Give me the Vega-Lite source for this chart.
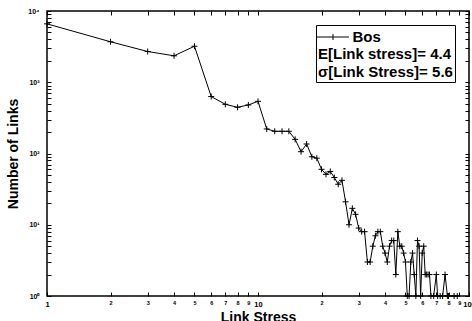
{
  "$schema": "https://vega.github.io/schema/vega-lite/v6.json",
  "width": 422,
  "height": 285,
  "autosize": "none",
  "padding": {"left": 47, "top": 11, "right": 3, "bottom": 25},
  "background": "white",
  "config": {
    "font": "Liberation Sans",
    "view": {"stroke": "black", "strokeWidth": 1.5}
  },
  "data": {
    "values": [
      {"stress": 1, "links": 6600, "series": "Bos"},
      {"stress": 2, "links": 3700, "series": "Bos"},
      {"stress": 3, "links": 2700, "series": "Bos"},
      {"stress": 4, "links": 2350, "series": "Bos"},
      {"stress": 5, "links": 3200, "series": "Bos"},
      {"stress": 6, "links": 630, "series": "Bos"},
      {"stress": 7, "links": 490, "series": "Bos"},
      {"stress": 8, "links": 445, "series": "Bos"},
      {"stress": 9, "links": 480, "series": "Bos"},
      {"stress": 10, "links": 540, "series": "Bos"},
      {"stress": 11, "links": 221, "series": "Bos"},
      {"stress": 12, "links": 205, "series": "Bos"},
      {"stress": 13, "links": 205, "series": "Bos"},
      {"stress": 14, "links": 205, "series": "Bos"},
      {"stress": 15, "links": 158, "series": "Bos"},
      {"stress": 16, "links": 106, "series": "Bos"},
      {"stress": 17, "links": 136, "series": "Bos"},
      {"stress": 18, "links": 90, "series": "Bos"},
      {"stress": 19, "links": 86, "series": "Bos"},
      {"stress": 20, "links": 60, "series": "Bos"},
      {"stress": 21, "links": 51, "series": "Bos"},
      {"stress": 22, "links": 56, "series": "Bos"},
      {"stress": 23, "links": 46, "series": "Bos"},
      {"stress": 24, "links": 37, "series": "Bos"},
      {"stress": 25, "links": 42, "series": "Bos"},
      {"stress": 26, "links": 21, "series": "Bos"},
      {"stress": 27, "links": 10, "series": "Bos"},
      {"stress": 28, "links": 17, "series": "Bos"},
      {"stress": 29, "links": 14, "series": "Bos"},
      {"stress": 30, "links": 9, "series": "Bos"},
      {"stress": 31, "links": 8, "series": "Bos"},
      {"stress": 32, "links": 8, "series": "Bos"},
      {"stress": 33, "links": 3, "series": "Bos"},
      {"stress": 34, "links": 3, "series": "Bos"},
      {"stress": 35, "links": 5, "series": "Bos"},
      {"stress": 36, "links": 7, "series": "Bos"},
      {"stress": 37, "links": 8, "series": "Bos"},
      {"stress": 38, "links": 8, "series": "Bos"},
      {"stress": 39, "links": 5, "series": "Bos"},
      {"stress": 40, "links": 4, "series": "Bos"},
      {"stress": 41, "links": 3, "series": "Bos"},
      {"stress": 42, "links": 5, "series": "Bos"},
      {"stress": 43, "links": 6, "series": "Bos"},
      {"stress": 44, "links": 6, "series": "Bos"},
      {"stress": 45, "links": 2, "series": "Bos"},
      {"stress": 46, "links": 8, "series": "Bos"},
      {"stress": 47, "links": 5, "series": "Bos"},
      {"stress": 48, "links": 5, "series": "Bos"},
      {"stress": 49, "links": 4, "series": "Bos"},
      {"stress": 50, "links": 3, "series": "Bos"},
      {"stress": 51, "links": 1, "series": "Bos"},
      {"stress": 52, "links": 1, "series": "Bos"},
      {"stress": 53, "links": 3, "series": "Bos"},
      {"stress": 54, "links": 4, "series": "Bos"},
      {"stress": 55, "links": 2, "series": "Bos"},
      {"stress": 56, "links": 1, "series": "Bos"},
      {"stress": 57, "links": 6, "series": "Bos"},
      {"stress": 58, "links": 5, "series": "Bos"},
      {"stress": 59, "links": 1, "series": "Bos"},
      {"stress": 60, "links": 4, "series": "Bos"},
      {"stress": 61, "links": 5, "series": "Bos"},
      {"stress": 62, "links": 2, "series": "Bos"},
      {"stress": 63, "links": 2, "series": "Bos"},
      {"stress": 64, "links": 2, "series": "Bos"},
      {"stress": 65, "links": 2, "series": "Bos"},
      {"stress": 66, "links": 1, "series": "Bos"},
      {"stress": 68, "links": 1, "series": "Bos"},
      {"stress": 70, "links": 2, "series": "Bos"},
      {"stress": 71, "links": 1, "series": "Bos"},
      {"stress": 73, "links": 1, "series": "Bos"},
      {"stress": 75, "links": 1, "series": "Bos"},
      {"stress": 77, "links": 2, "series": "Bos"},
      {"stress": 79, "links": 1, "series": "Bos"},
      {"stress": 80, "links": 1, "series": "Bos"},
      {"stress": 85, "links": 1, "series": "Bos"},
      {"stress": 88, "links": 1, "series": "Bos"}
    ]
  },
  "layer": [
    {
      "mark": {"type": "line", "color": "black", "strokeWidth": 1, "clip": false},
      "encoding": {
        "x": {
          "field": "stress", "type": "quantitative",
          "scale": {"type": "log", "domain": [1, 100]},
          "axis": {
            "orient": "bottom",
            "values": [1, 2, 3, 4, 5, 6, 7, 8, 9, 10, 20, 30, 40, 50, 60, 70, 80, 90, 100],
            "labelExpr": "datum.value > 10 && datum.value < 100 ? toString(round(datum.value / 10)) : toString(datum.value)",
            "labelFontSize": {"condition": {"test": "datum.value == 1 || datum.value == 10 || datum.value == 100", "value": 7.5}, "value": 5.5},
            "labelFontWeight": "bold",
            "labelColor": "black",
            "labelFlush": false,
            "labelOverlap": false,
            "labelPadding": 8,
            "tickSize": -4,
            "tickColor": "black",
            "domain": false,
            "grid": false,
            "title": "Link Stress",
            "titleFontSize": 14,
            "titleFontWeight": "bold",
            "titleColor": "black",
            "titlePadding": 3
          }
        },
        "y": {
          "field": "links", "type": "quantitative",
          "scale": {"type": "log", "domain": [1, 10000]},
          "axis": {
            "orient": "left",
            "values": [1, 2, 3, 4, 5, 6, 7, 8, 9, 10, 20, 30, 40, 50, 60, 70, 80, 90, 100, 200, 300, 400, 500, 600, 700, 800, 900, 1000, 2000, 3000, 4000, 5000, 6000, 7000, 8000, 9000, 10000],
            "labelExpr": "indexof([1, 10, 100, 1000, 10000], datum.value) >= 0 ? '10' + ['⁰', '¹', '²', '³', '⁴'][round(log(datum.value) / LN10)] : ''",
            "labelFontSize": 7,
            "labelFontWeight": "bold",
            "labelColor": "black",
            "labelFlush": false,
            "labelOverlap": false,
            "labelPadding": 12,
            "tickSize": -4,
            "tickColor": "black",
            "domain": false,
            "grid": false,
            "title": "Number of Links",
            "titleFontSize": 14,
            "titleFontWeight": "bold",
            "titleColor": "black",
            "titlePadding": 7
          }
        },
        "color": {
          "field": "series", "type": "nominal",
          "scale": {"range": ["black"]},
          "legend": {
            "orient": "top-right",
            "offset": 14,
            "title": ["E[Link stress]= 4.4", "σ[Link Stress]= 5.6"],
            "titleOrient": "bottom",
            "titleAnchor": "start",
            "titleFontSize": 15,
            "titleFontWeight": "bold",
            "titleColor": "black",
            "titleLineHeight": 18,
            "titlePadding": 2,
            "labelFontSize": 15,
            "labelFontWeight": "bold",
            "labelColor": "black",
            "labelOffset": 9.5,
            "symbolOffset": 5,
            "symbolType": "M-1.68,0H1.68M0,-0.32V0.32",
            "symbolSize": 361,
            "symbolStrokeColor": "black",
            "symbolFillColor": "transparent",
            "symbolStrokeWidth": 1,
            "padding": 2,
            "strokeColor": "black",
            "fillColor": "white"
          }
        }
      }
    },
    {
      "mark": {"type": "point", "shape": "M-1,0H1M0,-1V1", "size": 36, "stroke": "black", "strokeWidth": 1, "filled": false, "opacity": 1, "clip": false},
      "encoding": {
        "x": {
          "field": "stress", "type": "quantitative",
          "scale": {"type": "log", "domain": [1, 100]},
          "axis": {
            "orient": "top",
            "values": [1, 2, 3, 4, 5, 6, 7, 8, 9, 10, 20, 30, 40, 50, 60, 70, 80, 90, 100],
            "labels": false,
            "tickSize": -4,
            "tickColor": "black",
            "domain": false,
            "grid": false,
            "title": null
          }
        },
        "y": {
          "field": "links", "type": "quantitative",
          "scale": {"type": "log", "domain": [1, 10000]},
          "axis": {
            "orient": "right",
            "values": [1, 2, 3, 4, 5, 6, 7, 8, 9, 10, 20, 30, 40, 50, 60, 70, 80, 90, 100, 200, 300, 400, 500, 600, 700, 800, 900, 1000, 2000, 3000, 4000, 5000, 6000, 7000, 8000, 9000, 10000],
            "labels": false,
            "tickSize": -4,
            "tickColor": "black",
            "domain": false,
            "grid": false,
            "title": null
          }
        }
      }
    }
  ],
  "resolve": {"axis": {"x": "independent", "y": "independent"}}
}
